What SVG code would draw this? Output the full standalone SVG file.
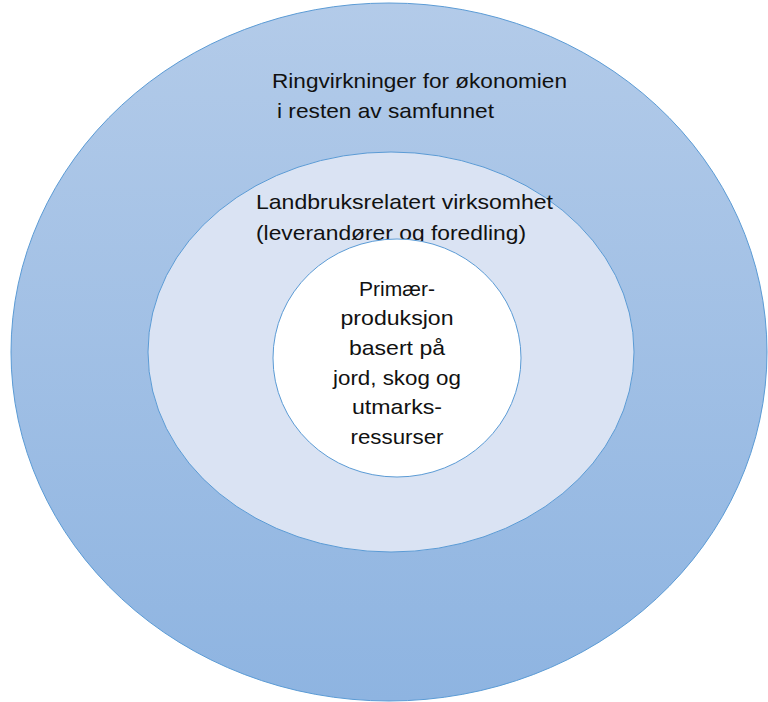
<svg xmlns="http://www.w3.org/2000/svg" width="768" height="702" viewBox="0 0 768 702">
<defs>
<linearGradient id="g" x1="0" y1="0" x2="0" y2="1">
<stop offset="0" stop-color="#b3cbe9"/>
<stop offset="1" stop-color="#8eb4e1"/>
</linearGradient>
<style>
.t{font-family:"Liberation Sans",Arial,sans-serif;font-size:21px;fill:#111}
.c{text-anchor:middle}
.e{stroke:#5b9bd5;stroke-width:1}
</style>
</defs>
<rect width="768" height="702" fill="#fff"/>
<g id="outer">
<ellipse class="e" cx="389" cy="352" rx="378" ry="349" fill="url(#g)"/>
<text class="t" x="272" y="88" textLength="295" lengthAdjust="spacingAndGlyphs">Ringvirkninger for økonomien</text>
<text class="t" x="277" y="118" textLength="217" lengthAdjust="spacingAndGlyphs">i resten av samfunnet</text>
</g>
<g id="middle">
<ellipse class="e" cx="391" cy="352" rx="243" ry="200" fill="#dae3f3"/>
<text class="t" x="256" y="209" textLength="297" lengthAdjust="spacingAndGlyphs">Landbruksrelatert virksomhet</text>
<text class="t" x="256" y="240" textLength="270" lengthAdjust="spacingAndGlyphs">(leverandører og foredling)</text>
</g>
<g id="inner">
<ellipse class="e" cx="397" cy="358" rx="124" ry="119" fill="#fff"/>
<text class="t c" x="397" y="296" textLength="76" lengthAdjust="spacingAndGlyphs">Primær-</text>
<text class="t c" x="397" y="325" textLength="113" lengthAdjust="spacingAndGlyphs">produksjon</text>
<text class="t c" x="397" y="355" textLength="96" lengthAdjust="spacingAndGlyphs">basert på</text>
<text class="t c" x="397" y="385" textLength="128" lengthAdjust="spacingAndGlyphs">jord, skog og</text>
<text class="t c" x="397" y="414" textLength="90" lengthAdjust="spacingAndGlyphs">utmarks-</text>
<text class="t c" x="397" y="444" textLength="93" lengthAdjust="spacingAndGlyphs">ressurser</text>
</g>
</svg>
